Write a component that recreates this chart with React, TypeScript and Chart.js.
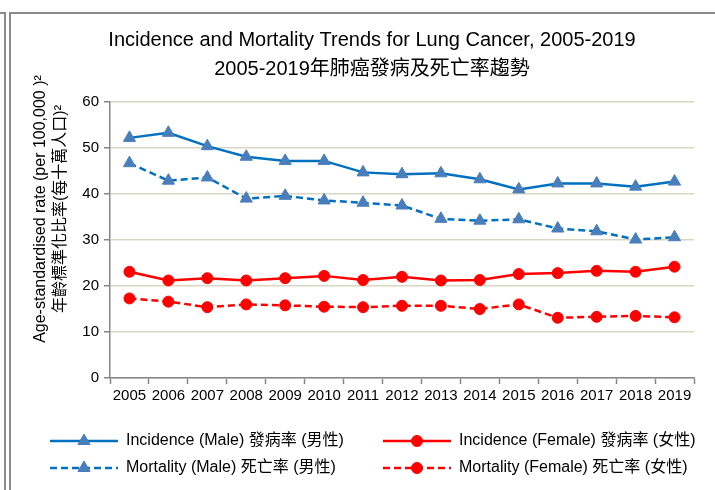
import React, { useEffect, useRef } from "react";
import { Chart, registerables } from "chart.js";

Chart.register(...registerables);

const years = ["2005", "2006", "2007", "2008", "2009", "2010", "2011", "2012", "2013", "2014", "2015", "2016", "2017", "2018", "2019"];
const incidenceMale = [52.2, 53.3, 50.4, 48.1, 47.2, 47.2, 44.7, 44.3, 44.5, 43.2, 41.0, 42.3, 42.3, 41.6, 42.7];
const mortalityMale = [46.7, 42.9, 43.6, 39.0, 39.6, 38.6, 38.1, 37.5, 34.6, 34.2, 34.5, 32.5, 31.9, 30.1, 30.6];
const incidenceFemale = [23.1, 21.2, 21.7, 21.2, 21.7, 22.2, 21.3, 22.0, 21.2, 21.3, 22.6, 22.8, 23.3, 23.1, 24.2];
const mortalityFemale = [17.3, 16.6, 15.4, 16.0, 15.8, 15.5, 15.4, 15.7, 15.7, 15.0, 16.0, 13.1, 13.3, 13.5, 13.2];

const titleLines = ["Incidence and Mortality Trends for Lung Cancer, 2005-2019", "2005-2019年肺癌發病及死亡率趨勢"];
const yTitleLines = ["Age-standardised rate (per 100,000 )²", "年齡標準化比率(每十萬人口)²"];
const seriesLabels = ["Incidence (Male) 發病率 (男性)", "Mortality (Male) 死亡率 (男性)", "Incidence (Female) 發病率 (女性)", "Mortality (Female) 死亡率 (女性)"];

const FONT = "'Liberation Sans', Arial, 'Noto Sans CJK TC', sans-serif";
const BLUE = "#0070c0";
const BLUE_MARK = "#4a7ebb";
const RED = "#ff0000";
const DASH = [7, 4];

const decorPlugin = {
  id: "decor",
  beforeDraw(chart: any) {
    const ctx = chart.ctx;
    ctx.save();
    ctx.strokeStyle = "#8c8c8c";
    ctx.lineWidth = 2;
    ctx.beginPath();
    ctx.moveTo(0, 13);
    ctx.lineTo(5, 13);
    ctx.lineTo(5, 490);
    ctx.moveTo(10, 490);
    ctx.lineTo(10, 13);
    ctx.lineTo(715, 13);
    ctx.stroke();
    ctx.restore();
  },
  afterDraw(chart: any) {
    const ctx = chart.ctx;
    ctx.save();
    // y axis title
    ctx.fillStyle = "#000";
    ctx.font = `16px ${FONT}`;
    ctx.textAlign = "center";
    ctx.textBaseline = "middle";
    const xs = [41, 61];
    yTitleLines.forEach((t, i) => {
      ctx.save();
      ctx.translate(xs[i], 209);
      ctx.rotate(-Math.PI / 2);
      ctx.fillText(t, 0, 0);
      ctx.restore();
    });
    // legend
    const pos = [
      { x: 50, y: 441 },
      { x: 50, y: 468 },
      { x: 383, y: 441 },
      { x: 383, y: 468 },
    ];
    chart.data.datasets.forEach((ds: any, i: number) => {
      const p = pos[i];
      ctx.save();
      ctx.strokeStyle = ds.borderColor;
      ctx.lineWidth = ds.borderWidth;
      ctx.setLineDash(ds.borderDash || []);
      ctx.beginPath();
      ctx.moveTo(p.x, p.y);
      ctx.lineTo(p.x + 68, p.y);
      ctx.stroke();
      ctx.restore();
      ctx.save();
      ctx.setLineDash([]);
      ctx.fillStyle = ds.pointBackgroundColor;
      ctx.strokeStyle = ds.pointBorderColor;
      ctx.lineWidth = 1;
      (Chart as any).helpers
        ? null
        : null;
      drawMarker(ctx, ds.pointStyle, p.x + 34, p.y, ds.pointRadius);
      ctx.restore();
      ctx.fillStyle = "#000";
      ctx.font = `16px ${FONT}`;
      ctx.textAlign = "left";
      ctx.textBaseline = "middle";
      ctx.fillText(ds.label, p.x + 76, p.y);
    });
    ctx.restore();
  },
};

function drawMarker(ctx: CanvasRenderingContext2D, style: string, x: number, y: number, r: number) {
  ctx.beginPath();
  if (style === "triangle") {
    const a = (2 * Math.PI) / 3;
    ctx.moveTo(x, y - r);
    ctx.lineTo(x + Math.sin(a) * r, y - Math.cos(a) * r);
    ctx.lineTo(x - Math.sin(a) * r, y - Math.cos(a) * r);
    ctx.closePath();
  } else {
    ctx.arc(x, y, r, 0, Math.PI * 2);
  }
  ctx.fill();
  ctx.stroke();
}

export default function App() {
  const ref = useRef<HTMLCanvasElement | null>(null);
  useEffect(() => {
    if (!ref.current) return;
    const mk = (label: string, data: number[], color: string, mark: string, style: string, dashed: boolean) => ({
      label,
      data,
      borderColor: color,
      backgroundColor: mark,
      borderWidth: 2.5,
      borderDash: dashed ? DASH : [],
      pointStyle: style,
      pointRadius: style === "triangle" ? 7 : 5.5,
      pointBackgroundColor: mark,
      pointBorderColor: mark,
      pointBorderWidth: 1,
      tension: 0,
      fill: false,
    });
    const chart = new Chart(ref.current, {
      type: "line",
      data: {
        labels: years,
        datasets: [
          mk(seriesLabels[0], incidenceMale, BLUE, BLUE_MARK, "triangle", false),
          mk(seriesLabels[1], mortalityMale, BLUE, BLUE_MARK, "triangle", true),
          mk(seriesLabels[2], incidenceFemale, RED, RED, "circle", false),
          mk(seriesLabels[3], mortalityFemale, RED, RED, "circle", true),
        ],
      },
      options: {
        animation: false,
        responsive: false,
        devicePixelRatio: 1,
        layout: { padding: { left: 50, right: 21, top: 0, bottom: 0 } },
        plugins: {
          legend: { display: false },
          tooltip: { enabled: false },
          title: {
            display: true,
            text: titleLines,
            color: "#000",
            font: { size: 20, family: FONT, weight: "normal", lineHeight: 1.45 },
            padding: { top: 25.5, bottom: 18.5 },
          },
        },
        scales: {
          x: {
            type: "category",
            offset: true,
            grid: { offset: true, drawOnChartArea: false, drawTicks: true, tickLength: 6, tickColor: "#868686", tickWidth: 1.5 },
            border: { color: "#868686", width: 1.5 },
            ticks: { color: "#000", font: { size: 15, family: FONT }, padding: 3, maxRotation: 0, autoSkip: false },
            afterFit: (s: any) => { s.height = 112; },
          },
          y: {
            min: 0,
            max: 60,
            ticks: { stepSize: 10, color: "#000", font: { size: 15, family: FONT }, padding: 5 },
            grid: { color: "#d9d6c3", lineWidth: 1.5, tickColor: "#868686", tickWidth: 1.5, tickLength: 6 },
            border: { color: "#868686", width: 1.5 },
            afterFit: (s: any) => { s.width = 60; },
          },
        },
      },
      plugins: [decorPlugin],
    } as any);
    return () => chart.destroy();
  }, []);
  return (
    <div style={{ position: "fixed", left: 0, top: 0, width: 715, height: 490, background: "#fff" }}>
      <canvas ref={ref} width={715} height={490} style={{ display: "block" }} />
    </div>
  );
}
